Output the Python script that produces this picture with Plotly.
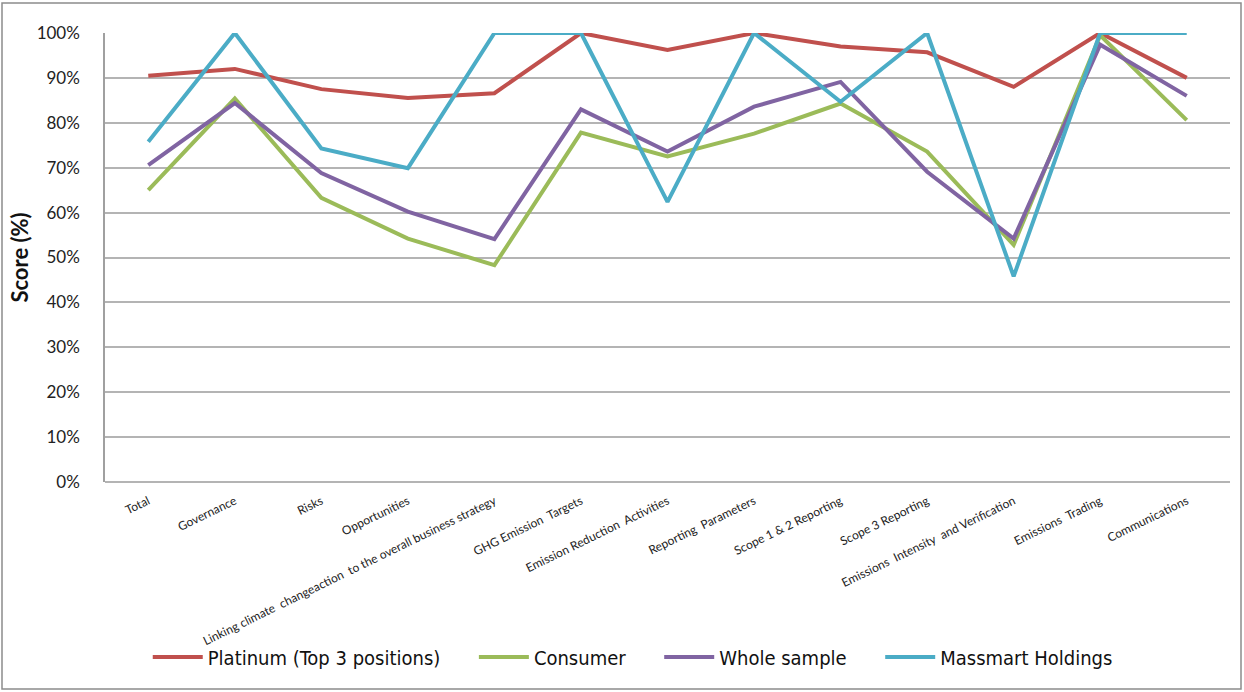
import plotly.graph_objects as go

categories = [
    "Total", "Governance", "Risks", "Opportunities",
    "Linking climate  changeaction  to the overall business strategy",
    "GHG Emission  Targets", "Emission Reduction  Activities",
    "Reporting  Parameters", "Scope 1 & 2 Reporting", "Scope 3 Reporting",
    "Emissions  Intensity  and Verification", "Emissions  Trading",
    "Communications",
]

platinum = [90.5, 92, 87.5, 85.5, 86.6, 100, 96.2, 100, 97, 95.7, 88, 100, 90]
consumer = [65, 85.4, 63.3, 54.2, 48.3, 77.8, 72.5, 77.6, 84.3, 73.6, 52.8, 99.5, 80.6]
whole_sample = [70.6, 84.4, 68.8, 60.2, 54.1, 83, 73.6, 83.6, 89.1, 69.1, 54.2, 97.4, 86]
massmart = [75.8, 100, 74.3, 69.9, 100, 100, 62.4, 100, 84.7, 100, 45.8, 100, 100]

series = [
    ("Platinum (Top 3 positions)", platinum, "#c0504d"),
    ("Consumer", consumer, "#9bbb59"),
    ("Whole sample", whole_sample, "#8064a2"),
    ("Massmart Holdings", massmart, "#4bacc6"),
]

# trailing non-breaking spaces give the legend entries some breathing room
PAD = "\u00a0" * 5

fig = go.Figure()
for name, values, color in series:
    fig.add_trace(go.Scatter(
        x=categories, y=values, name=name + PAD, mode="lines",
        line=dict(color=color, width=4),
    ))

W, H = 1244, 692
ml, mr, mt, mb = 105, 14, 33, 210
pw, ph = W - ml - mr, H - mt - mb

fig.update_layout(
    width=W, height=H,
    margin=dict(l=ml, r=mr, t=mt, b=mb),
    paper_bgcolor="white", plot_bgcolor="white",
    showlegend=True,
    legend=dict(
        orientation="h", x=0.482, xanchor="center", y=-0.39, yanchor="middle",
        bgcolor="rgba(0,0,0,0)",
        font=dict(family="DejaVu Sans Condensed, sans-serif", size=20, color="#111"),
        itemwidth=50,
    ),
    font=dict(family="Lato, sans-serif"),
)

fig.update_xaxes(
    type="category", range=[-0.5, len(categories) - 0.5], tickangle=-26,
    tickfont=dict(family="Lato, sans-serif", size=12, color="#222"),
    showgrid=False, showline=False, ticks="", zeroline=False,
    ticklabelstandoff=9,
)
fig.update_yaxes(
    range=[0, 100], dtick=10, ticksuffix="%",
    tickfont=dict(family="Lato, sans-serif", size=17, color="#222"),
    showgrid=True, gridcolor="#b4b4b4", gridwidth=1.5,
    showline=True, linecolor="#a0a0a0", linewidth=1.5,
    zeroline=True, zerolinecolor="#b4b4b4", zerolinewidth=1.5,
    ticks="", ticklabelstandoff=20,
    title=dict(text="<b>Score (%)</b>", font=dict(family="Lato, sans-serif", size=22, color="#111"),
               standoff=2),
)

# outer frame around the whole chart
fig.add_shape(
    type="rect", xref="paper", yref="paper", layer="above",
    x0=(2 - ml) / pw, x1=(W - 3 - ml) / pw,
    y0=(ph + mt - (H - 3)) / ph, y1=(ph + mt - 3) / ph,
    line=dict(color="#8c8c8c", width=1.5), fillcolor="rgba(0,0,0,0)",
)

fig.write_html("out.html")
